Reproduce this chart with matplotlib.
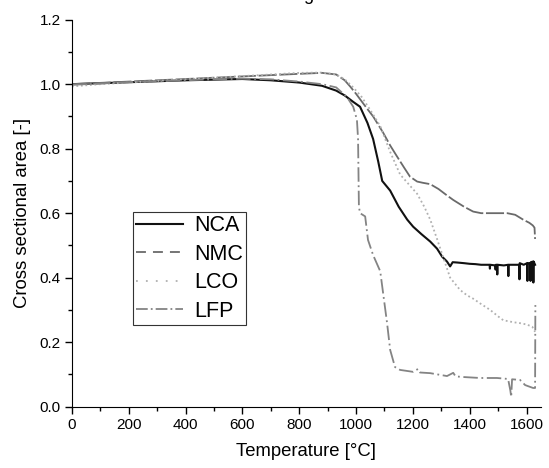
import matplotlib
matplotlib.use("Agg")
import matplotlib.pyplot as plt
from matplotlib.lines import Line2D
from matplotlib.ticker import MultipleLocator

plt.rcParams['font.family'] = ['Liberation Sans', 'DejaVu Sans']

# values
nca_t = [0, 100, 200, 300, 400, 500, 600, 700, 800, 880, 930, 960, 990, 1014, 1040, 1060, 1078, 1092,
         1120, 1150, 1180, 1201, 1230, 1261, 1285, 1303, 1320, 1331, 1340, 1356, 1380, 1400, 1420, 1440,
         1470, 1471, 1472, 1490, 1491, 1492, 1496, 1497, 1498, 1520, 1535, 1536, 1537, 1560, 1574, 1575,
         1576, 1590, 1602, 1603, 1604, 1613, 1614, 1615, 1623, 1624, 1625, 1630]
nca_v = [1.0, 1.003, 1.006, 1.009, 1.012, 1.014, 1.016, 1.012, 1.005, 0.995, 0.98, 0.965, 0.945, 0.93,
         0.88, 0.83, 0.76, 0.70, 0.67, 0.62, 0.58, 0.558, 0.535, 0.512, 0.49, 0.465, 0.45, 0.435, 0.448,
         0.447, 0.445, 0.443, 0.442, 0.44, 0.44, 0.428, 0.44, 0.438, 0.425, 0.44, 0.44, 0.41, 0.44, 0.438,
         0.44, 0.405, 0.44, 0.44, 0.44, 0.395, 0.445, 0.44, 0.445, 0.39, 0.445, 0.445, 0.39, 0.448, 0.45,
         0.385, 0.45, 0.44]

nmc_t = [0, 100, 200, 300, 400, 500, 600, 700, 800, 880, 930, 960, 979, 1000, 1038, 1060, 1095, 1120,
         1144, 1170, 1190, 1215, 1236, 1261, 1290, 1320, 1342, 1380, 1412, 1440, 1472, 1500, 1532, 1560,
         1588, 1610, 1622, 1628, 1630]
nmc_v = [1.0, 1.004, 1.008, 1.012, 1.016, 1.02, 1.024, 1.028, 1.032, 1.035, 1.03, 1.012, 0.993, 0.97,
         0.925, 0.9, 0.85, 0.81, 0.776, 0.74, 0.713, 0.698, 0.694, 0.69, 0.675, 0.655, 0.641, 0.62, 0.605,
         0.6, 0.6, 0.6, 0.6, 0.595, 0.58, 0.57, 0.562, 0.555, 0.52]

lco_t = [0, 100, 200, 300, 400, 500, 600, 700, 800, 880, 930, 960, 990, 1020, 1050, 1085, 1120, 1155,
         1185, 1215, 1240, 1261, 1285, 1306, 1331, 1366, 1391, 1412, 1437, 1472, 1500, 1518, 1553, 1577,
         1600, 1620, 1630]
lco_v = [0.993, 1.0, 1.005, 1.01, 1.015, 1.02, 1.025, 1.03, 1.035, 1.036, 1.03, 1.015, 0.99, 0.96, 0.92,
         0.87, 0.79, 0.72, 0.69, 0.66, 0.62, 0.58, 0.52, 0.465, 0.40, 0.362, 0.345, 0.335, 0.32, 0.30,
         0.28, 0.268, 0.262, 0.259, 0.255, 0.248, 0.232]

lfp_t = [0, 100, 200, 300, 400, 500, 600, 700, 800, 880, 930, 968, 990, 1003, 1007, 1010, 1014, 1032,
         1042, 1060, 1085, 1109, 1120, 1137, 1155, 1201, 1218, 1225, 1261, 1320, 1342, 1350, 1377, 1437,
         1496, 1535, 1543, 1546, 1549, 1577, 1595, 1623, 1630, 1631]
lfp_v = [0.998, 1.002, 1.006, 1.009, 1.012, 1.015, 1.017, 1.015, 1.008, 1.0, 0.99, 0.96, 0.93, 0.89,
         0.83, 0.62, 0.60, 0.59, 0.517, 0.47, 0.42, 0.26, 0.176, 0.123, 0.114, 0.108, 0.117, 0.106, 0.104,
         0.095, 0.105, 0.094, 0.092, 0.089, 0.089, 0.086, 0.05, 0.03, 0.085, 0.083, 0.067, 0.058, 0.058,
         0.315]

names = ['NCA', 'NMC', 'LCO', 'LFP']
colors = ['#111111', '#6a6a6a', '#b0b0b0', '#848484']
widths = [1.5, 1.3, 1.3, 1.3]
# dense data in the original makes the curves look tighter than the legend samples
curve_styles = ['-', (0, (10, 1.5)), (0, (1, 1.5)), (0, (8, 2, 1, 2))]
legend_styles = ['-', (0, (5.5, 3.9)), (0, (1, 4.5)), (0, (6.5, 1.7, 1, 1.7))]

fig = plt.figure(figsize=(5.49, 4.68), dpi=100)
ax = fig.add_axes([0.131, 0.131, 0.854, 0.827])

series = [(nca_t, nca_v), (nmc_t, nmc_v), (lco_t, lco_v), (lfp_t, lfp_v)]
for (t, v), c, w, s in zip(series, colors, widths, curve_styles):
    ax.plot(t, v, color=c, lw=w, ls=s)

ax.set_xlim(0, 1650)
ax.set_ylim(0, 1.2)
ax.spines['top'].set_visible(False)
ax.spines['right'].set_visible(False)
ax.xaxis.set_major_locator(MultipleLocator(200))
ax.xaxis.set_minor_locator(MultipleLocator(100))
ax.yaxis.set_major_locator(MultipleLocator(0.2))
ax.yaxis.set_minor_locator(MultipleLocator(0.1))
ax.yaxis.set_major_formatter(plt.FuncFormatter(lambda v, p: f'{v:.1f}'))
ax.tick_params(which='major', direction='out', length=5, width=1, labelsize=11, pad=3)
ax.tick_params(which='minor', direction='out', length=3, width=1)

ax.set_xlabel('Temperature [°C]', fontsize=13.3, labelpad=8)
ax.set_ylabel('Cross sectional area [-]', fontsize=13.3, labelpad=6)

handles = [Line2D([], [], color=c, lw=w, ls=s) for c, w, s in zip(colors, widths, legend_styles)]
leg = ax.legend(handles, names, loc='lower left', bbox_to_anchor=(0.130, 0.211), fontsize=15.5,
                handlelength=2.2, fancybox=False, framealpha=1, edgecolor='#333333', borderpad=0.15,
                labelspacing=0.35, handletextpad=0.5, borderaxespad=0)
leg.get_frame().set_linewidth(0.8)

# title above the frame, only its descender shows
fig.text(0.562, 1.0, 'g', ha='center', va='baseline', fontsize=13)

fig.savefig('out.png', dpi=100)
